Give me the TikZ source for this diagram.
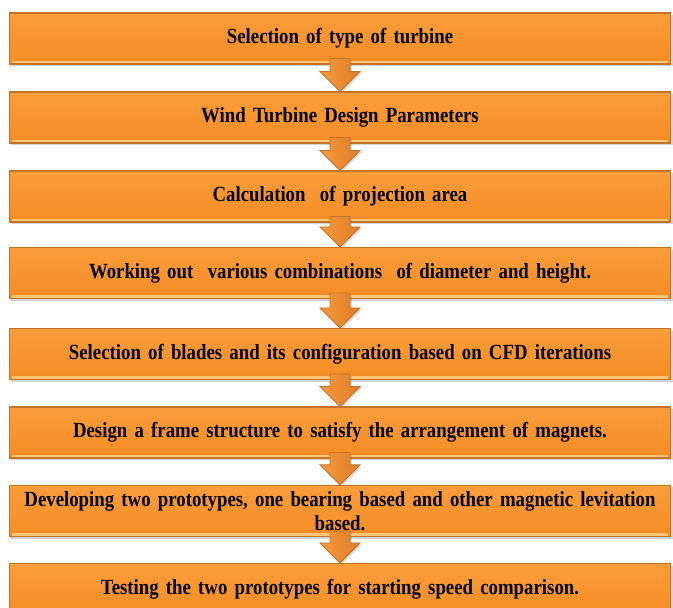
\documentclass[tikz,border=0pt]{standalone}
\usepackage{fontspec}
\setmainfont{Liberation Serif}[FakeStretch=0.87]
\usetikzlibrary{calc,shadows}
\definecolor{boxtop}{HTML}{FA9D3B}
\definecolor{boxbot}{HTML}{F58C24}
\definecolor{boxline}{HTML}{C47429}
\definecolor{bevel}{HTML}{FDC576}
\definecolor{arrleft}{HTML}{F69A3E}
\definecolor{arrright}{HTML}{DE7C26}
\tikzset{
stepbox/.style={rectangle,draw=boxline,line width=0.6pt,top color=boxtop,bottom color=boxbot,minimum width=13.12cm,minimum height=1.02cm,text width=13cm,align=center,font=\fontsize{12.3}{13.8}\selectfont\bfseries,drop shadow={shadow xshift=1.2pt,shadow yshift=-1.2pt,opacity=0.35}},
bevelline/.style={draw=bevel,line width=1.6pt},
flowarrow/.style={left color=arrleft,right color=arrright,draw=boxline,line width=0.5pt,drop shadow={shadow xshift=1pt,shadow yshift=-1pt,opacity=0.3}}
}
\newcommand{\flowarrowshape}[2]{\shade[flowarrow] ($(#1.south)+(-10,-6)$) -- ($(#1.south)+(10,-6)$) -- ($(#2.north)+(10,-20)$) -- ($(#2.north)+(20,-20)$) -- (#2.north) -- ($(#2.north)+(-20,-20)$) -- ($(#2.north)+(-10,-20)$) -- cycle;}
\begin{document}
\begin{tikzpicture}[x=0.02cm,y=-0.02cm]
\useasboundingbox (0,0) rectangle (673,608);
\clip (0,0) rectangle (673,608);
\node[stepbox] (s1) at (340,38.5){Selection of type of turbine};
\node[stepbox] (s2) at (340,117.5){Wind Turbine Design Parameters};
\node[stepbox] (s3) at (340,196.5){Calculation\ \ of projection area};
\node[stepbox] (s4) at (340,273){Working out\ \ various combinations\ \ of diameter and height.};
\node[stepbox] (s5) at (340,354){Selection of blades and its configuration based on CFD iterations};
\node[stepbox] (s6) at (340,432.5){Design a frame structure to satisfy the arrangement of magnets.};
\node[stepbox] (s7) at (340,511){Developing two prototypes, one bearing based and other magnetic levitation\\ based.};
\node[stepbox] (s8) at (340,589){Testing the two prototypes for starting speed comparison.};
\foreach \b in {s1,s2,s3,s4,s5,s6,s7,s8}{\draw[bevelline] ($(\b.south west)+(3,-2.5)$) -- ($(\b.south east)+(-3,-2.5)$);}
\foreach \a/\b in {s1/s2,s2/s3,s3/s4,s4/s5,s5/s6,s6/s7,s7/s8}{\flowarrowshape{\a}{\b}}
\end{tikzpicture}
\end{document}
